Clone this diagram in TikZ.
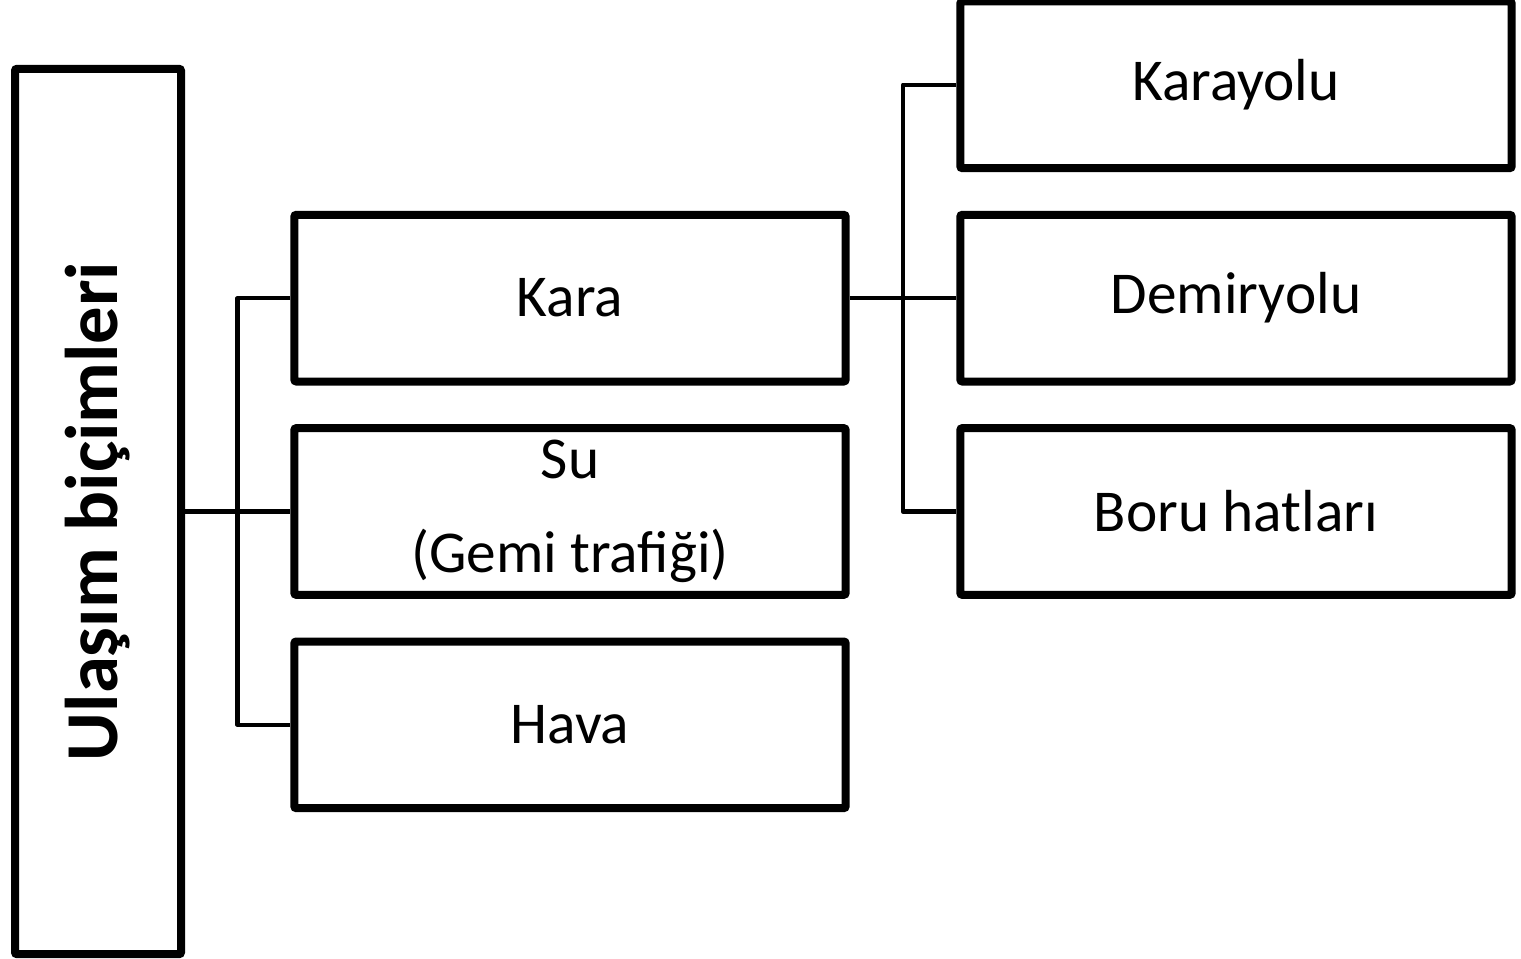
\documentclass[tikz,border=0pt]{standalone}
\usepackage{fontspec}
\setmainfont{Carlito}
\usetikzlibrary{positioning, calc, shadows}
\tikzset{
  kutu/.style={draw, line width=6pt, rounded corners=1.5pt, fill=white,
    minimum width=413.5pt, minimum height=125pt, inner sep=0pt,
    drop shadow={shadow xshift=1.2pt, shadow yshift=-1.2pt, opacity=0.18},
    font=\fontsize{44.5}{70}\selectfont, align=center},
  anakutu/.style={kutu, minimum width=124.5pt, minimum height=664pt},
  bag/.style={line width=3.3pt, line join=round}
}

\begin{document}
\begin{tikzpicture}[x=0.75pt, y=-0.75pt, node distance=29pt]
\useasboundingbox (0,0) rectangle (1521,959);
% sol taraf
\node[anakutu] (ana) at (98,511.5) {\rotatebox{90}{\fontsize{56}{66}\selectfont\bfseries Ulaşım biçimleri}};
\node[kutu, right=79pt of ana] (su) {Su\\(Gemi trafiği)};
\node[kutu, above=of su] (kara) {Kara};
\node[kutu, below=of su] (hava) {Hava};
% sag taraf
\node[kutu, right=80pt of kara] (demiryolu) {Demiryolu};
\node[kutu, above=of demiryolu] (karayolu) {Karayolu};
\node[kutu, below=of demiryolu] (boru) {Boru hatları};
% baglantilar
\coordinate (dal1) at ($(ana.east)!0.5!(su.west)$);
\coordinate (dal2) at ($(kara.east)!0.5!(demiryolu.west)$);
\draw[bag] (ana.east) -- (su.west);
\draw[bag] (kara.west) -| (dal1) |- (hava.west);
\draw[bag] (kara.east) -- (demiryolu.west);
\draw[bag] (karayolu.west) -| (dal2) |- (boru.west);
\end{tikzpicture}
\end{document}
